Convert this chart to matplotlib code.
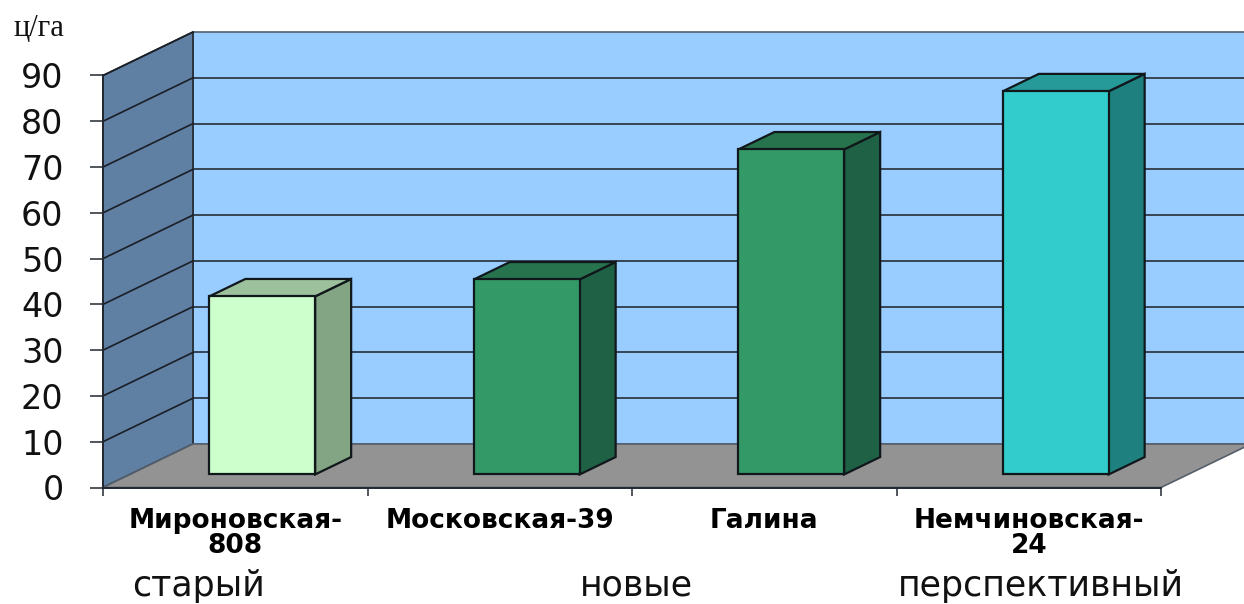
import matplotlib
matplotlib.use("Agg")
import matplotlib.pyplot as plt

categories = ["Мироновская-\n808", "Московская-39", "Галина", "Немчиновская-\n24"]
values = [38.9, 42.6, 71.0, 83.7]
y_ticks = [0, 10, 20, 30, 40, 50, 60, 70, 80, 90]
groups = ["старый", "новые", "перспективный"]
group_x = [0.36, 2.015, 3.546]

front = ["#CCFFCC", "#339966", "#339966", "#33CCCC"]
top = ["#9DC19D", "#26734D", "#26734D", "#269999"]
side = ["#83A583", "#1F6144", "#1F6144", "#1F8080"]

W, H = 1244, 604
# depth of the 3d box, as px converted to data units
px_x = 264.5
px_y = 412.0 / 90
DX = 90 / px_x
DY = 43.5 / px_y
LINE = "#222831"


def p(x, y, d=0.0):
    return x + d * DX, y + d * DY


def poly(pts, color, edge=LINE, lw=1.2, z=1):
    xs = [a[0] for a in pts]
    ys = [a[1] for a in pts]
    ax.fill(xs, ys, facecolor=color, edgecolor=edge, linewidth=lw, zorder=z,
            clip_on=False, joinstyle="miter")


fig = plt.figure(figsize=(W / 100, H / 100), dpi=100)
ax = fig.add_axes([103 / W, (H - 487.5) / H, 1058 / W, 412 / H])
ax.set_xlim(0, 4)
ax.set_ylim(0, 90)
ax.patch.set_visible(False)

# back wall, left wall, floor
ymax = y_ticks[-1]
poly([p(0, 0, 1), p(4, 0, 1), p(4, ymax, 1), p(0, ymax, 1)], "#99CCFF", edge="#555F6B")
poly([p(0, 0), p(0, 0, 1), p(0, ymax, 1), p(0, ymax)], "#5F7FA3")
poly([p(0, 0), p(4, 0), p(4, 0, 1), p(0, 0, 1)], "#939393", edge="#555F6B")

for v in y_ticks[1:-1]:
    ax.plot(*zip(p(0, v, 1), p(4, v, 1)), color="#2E3A48", lw=1.3, zorder=2, clip_on=False)
for v in y_ticks[1:]:
    ax.plot(*zip(p(0, v), p(0, v, 1)), color="#1A1F26", lw=1.2, zorder=2, clip_on=False)

# bars: gap 0.3 of the category each side, sit in the middle of the depth
for i, v in enumerate(values):
    l, r = i + 0.3, i + 0.7
    poly([p(r, 0, 0.3), p(r, 0, 0.7), p(r, v, 0.7), p(r, v, 0.3)], side[i], edge="#10181C", lw=1.6, z=3)
    poly([p(l, v, 0.3), p(r, v, 0.3), p(r, v, 0.7), p(l, v, 0.7)], top[i], edge="#10181C", lw=1.6, z=3)
    poly([p(l, 0, 0.3), p(r, 0, 0.3), p(r, v, 0.3), p(l, v, 0.3)], front[i], edge="#10181C", lw=1.6, z=4)

for s in ["top", "right"]:
    ax.spines[s].set_visible(False)
for s in ["left", "bottom"]:
    ax.spines[s].set_color(LINE)
    ax.spines[s].set_linewidth(1.4)

ax.set_yticks(y_ticks)
ax.set_yticklabels([str(t) for t in y_ticks], fontname="DejaVu Sans", fontsize=24, color="#111111")
ax.tick_params(axis="y", length=9.4, width=1.1, color=LINE, pad=19)
ax.set_xticks(range(5))
ax.set_xticklabels([])
ax.tick_params(axis="x", which="major", length=6, width=1.1, color=LINE)
ax.set_xticks([i + 0.5 for i in range(4)], minor=True)
ax.set_xticklabels(categories, minor=True, fontname="DejaVu Sans", fontweight="bold",
                   fontsize=19, linespacing=0.95, color="black")
ax.tick_params(axis="x", which="minor", length=0, pad=15)

for g, gx in zip(groups, group_x):
    ax.text(gx, -23.7, g, fontname="DejaVu Sans", fontsize=25, ha="center", va="baseline", color="#111111")

fig.text(13 / W, 1 - 28 / H, "ц/га", fontname="Liberation Serif", fontsize=22, ha="left", va="center", color="#111111")

fig.savefig("out.png", dpi=100)
